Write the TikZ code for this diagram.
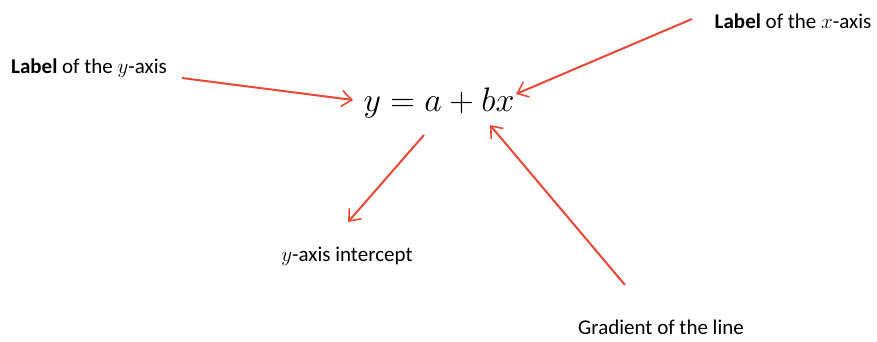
\RequirePackage{fix-cm}
\documentclass[tikz,border=0pt]{standalone}
\usepackage{fontspec}
\setmainfont{Carlito}
\usepackage{tikz}
\usetikzlibrary{arrows.meta}
\definecolor{arrowred}{RGB}{232,72,52}

\begin{document}
\begin{tikzpicture}[x=1pt, y=-1pt, >={Straight Barb[length=10pt,width=16pt,line width=1.6pt]}]
        \useasboundingbox (0,0) rectangle (877,341);
        \path

        (439,103) coordinate (eq)
        (89,68) coordinate (ylab)
        (793,21) coordinate (xlab)
        (347,256) coordinate (icpt)
        (661,327) coordinate (grad)
        (182,78) coordinate (ytail)
        (353,100) coordinate (ytip)
        (692,19) coordinate (xtail)
        (516,94) coordinate (xtip)
        (424,135) coordinate (itail)
        (348,222) coordinate (itip)
        (625,285) coordinate (gtail)
        (490,125) coordinate (gtip)
        ;

        \draw
        (eq) node[font=\fontsize{34}{40}\selectfont] (eqn) {$y = a + bx$}
        (ylab) node[font=\fontsize{21}{25}\selectfont] (ylabel) {\textbf{Label} of the $y$-axis}
        (xlab) node[font=\fontsize{21}{25}\selectfont] (xlabel) {\textbf{Label} of the $x$-axis}
        (icpt) node[font=\fontsize{21}{25}\selectfont] (intercept) {$y$-axis intercept}
        (grad) node[font=\fontsize{21}{25}\selectfont] (gradient) {Gradient of the line}
        ;

        \draw[line width=2pt, arrowred, ->] (ytail) to (ytip);
        \draw[line width=2pt, arrowred, ->] (xtail) to (xtip);
        \draw[line width=2pt, arrowred, ->] (itail) to (itip);
        \draw[line width=2pt, arrowred, ->] (gtail) to (gtip);
\end{tikzpicture}
\end{document}
